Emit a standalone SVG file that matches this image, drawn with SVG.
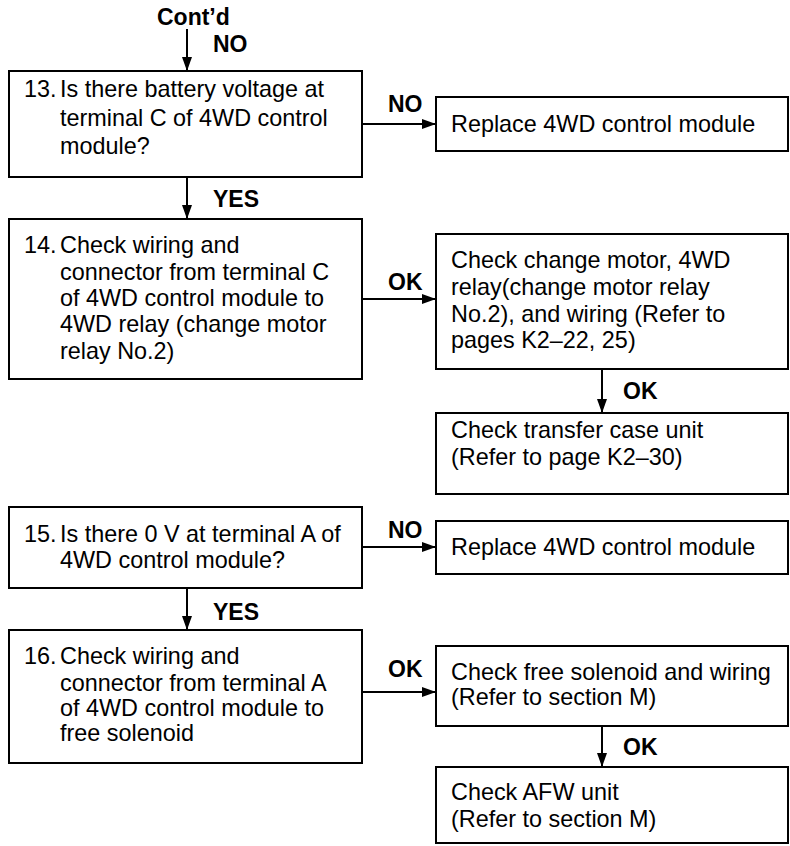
<svg xmlns="http://www.w3.org/2000/svg" width="790" height="846" viewBox="0 0 790 846">
  <style>
    .box { fill: #fff; stroke: #000; stroke-width: 2; }
    .t { font-family: "Liberation Sans", Arial, sans-serif; font-size: 23.4px; fill: #000; }
    .lbl { font-family: "Liberation Sans", Arial, sans-serif; font-size: 23px; font-weight: bold; fill: #000; }
    .wire { stroke: #000; stroke-width: 2; fill: none; marker-end: url(#arrow); }
  </style>
  <defs>
    <marker id="arrow" viewBox="0 0 14 10" refX="14" refY="5" markerWidth="14" markerHeight="10" markerUnits="userSpaceOnUse" orient="auto">
      <path d="M0,0 L14,5 L0,10 Z" fill="#000"/>
    </marker>
  </defs>
  <rect width="790" height="846" fill="#fff"/>

  <!-- connectors -->
  <g id="connectors">
    <line class="wire" x1="187" y1="29" x2="187" y2="71"/>
    <line class="wire" x1="362" y1="124" x2="436" y2="124"/>
    <line class="wire" x1="187" y1="177" x2="187" y2="219"/>
    <line class="wire" x1="362" y1="299" x2="436" y2="299"/>
    <line class="wire" x1="602" y1="369" x2="602" y2="413"/>
    <line class="wire" x1="362" y1="547" x2="436" y2="547"/>
    <line class="wire" x1="187" y1="588" x2="187" y2="630"/>
    <line class="wire" x1="362" y1="692" x2="436" y2="692"/>
    <line class="wire" x1="602" y1="726" x2="602" y2="767"/>
  </g>

  <!-- connector labels -->
  <g id="labels">
    <text class="lbl" x="157" y="25">Cont’d</text>
    <text class="lbl" x="213" y="52">NO</text>
    <text class="lbl" x="388" y="112">NO</text>
    <text class="lbl" x="213" y="207">YES</text>
    <text class="lbl" x="388" y="290">OK</text>
    <text class="lbl" x="623" y="399">OK</text>
    <text class="lbl" x="388" y="538">NO</text>
    <text class="lbl" x="213" y="620">YES</text>
    <text class="lbl" x="388" y="677">OK</text>
    <text class="lbl" x="623" y="755">OK</text>
  </g>

  <g id="step13">
    <rect class="box" x="9" y="71" width="353" height="106"/>
    <text class="t"><tspan x="24" y="97">13.</tspan><tspan x="60" y="97">Is there battery voltage at</tspan><tspan x="60" y="126">terminal C of 4WD control</tspan><tspan x="60" y="154">module?</tspan></text>
  </g>

  <g id="replace1">
    <rect class="box" x="436" y="97" width="352" height="54"/>
    <text class="t" x="451" y="132">Replace 4WD control module</text>
  </g>

  <g id="step14">
    <rect class="box" x="9" y="219" width="353" height="160"/>
    <text class="t"><tspan x="24" y="253">14.</tspan><tspan x="60" y="253">Check wiring and</tspan><tspan x="60" y="280">connector from terminal C</tspan><tspan x="60" y="306">of 4WD control module to</tspan><tspan x="60" y="332">4WD relay (change motor</tspan><tspan x="60" y="359">relay No.2)</tspan></text>
  </g>

  <g id="motorCheck">
    <rect class="box" x="436" y="234" width="352" height="135"/>
    <text class="t"><tspan x="451" y="268">Check change motor, 4WD</tspan><tspan x="451" y="295">relay(change motor relay</tspan><tspan x="451" y="322">No.2), and wiring (Refer to</tspan><tspan x="451" y="348">pages K2–22, 25)</tspan></text>
  </g>

  <g id="transferCase">
    <rect class="box" x="436" y="413" width="352" height="81"/>
    <text class="t"><tspan x="451" y="438">Check transfer case unit</tspan><tspan x="451" y="465">(Refer to page K2–30)</tspan></text>
  </g>

  <g id="step15">
    <rect class="box" x="9" y="507" width="353" height="81"/>
    <text class="t"><tspan x="24" y="542">15.</tspan><tspan x="60" y="542">Is there 0 V at terminal A of</tspan><tspan x="60" y="568">4WD control module?</tspan></text>
  </g>

  <g id="replace2">
    <rect class="box" x="436" y="521" width="352" height="53"/>
    <text class="t" x="451" y="555">Replace 4WD control module</text>
  </g>

  <g id="step16">
    <rect class="box" x="9" y="630" width="353" height="133"/>
    <text class="t"><tspan x="24" y="664">16.</tspan><tspan x="60" y="664">Check wiring and</tspan><tspan x="60" y="691">connector from terminal A</tspan><tspan x="60" y="716">of 4WD control module to</tspan><tspan x="60" y="741">free solenoid</tspan></text>
  </g>

  <g id="solenoidCheck">
    <rect class="box" x="436" y="646" width="352" height="80"/>
    <text class="t"><tspan x="451" y="680">Check free solenoid and wiring</tspan><tspan x="451" y="705">(Refer to section M)</tspan></text>
  </g>

  <g id="afwCheck">
    <rect class="box" x="436" y="767" width="352" height="76"/>
    <text class="t"><tspan x="451" y="800">Check AFW unit</tspan><tspan x="451" y="827">(Refer to section M)</tspan></text>
  </g>
</svg>
